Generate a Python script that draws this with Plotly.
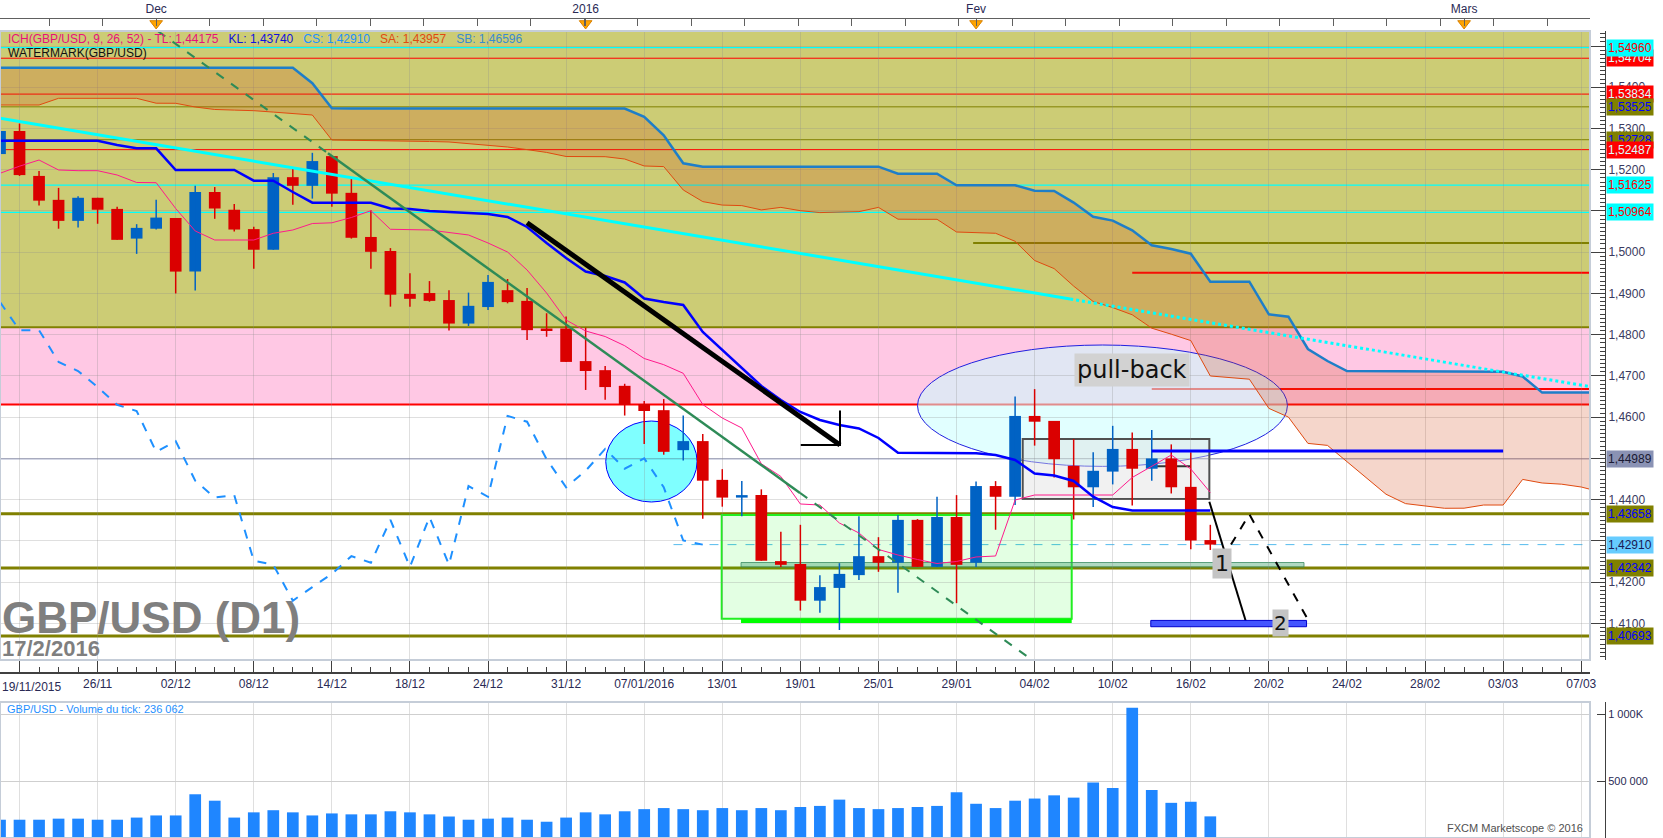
import plotly.graph_objects as go

# ------------------------------------------------------------------ data
# bar index: 0 = 19/11/2015 (daily bars, GBP/USD D1)
BAR_INDEX = list(range(-1, 62))

OPEN = [1.5238, 1.5294, 1.5185, 1.5127, 1.5076, 1.5132, 1.5105, 1.5033, 1.5057, 1.5083,
        1.4953, 1.5146, 1.5103, 1.5056, 1.5006, 1.5182, 1.5161, 1.5233, 1.5144, 1.5037,
        1.5003, 1.4899, 1.4901, 1.4884, 1.4827, 1.4867, 1.4908, 1.4882, 1.4815, 1.4815,
        1.4736, 1.4714, 1.4676, 1.4632, 1.4617, 1.4520, 1.4542, 1.4448, 1.4405, 1.4411,
        1.4251, 1.4244, 1.4155, 1.4186, 1.4217, 1.4263, 1.4247, 1.4351, 1.4237, 1.4358,
        1.4247, 1.4433, 1.4407, 1.4603, 1.4591, 1.4482, 1.4430, 1.4468, 1.4523, 1.4475,
        1.4500, 1.4431, 1.4302]
HIGH = [1.5338, 1.5312, 1.5197, 1.5156, 1.5136, 1.5132, 1.5110, 1.5068, 1.5127, 1.5083,
        1.5161, 1.5158, 1.5117, 1.5062, 1.5192, 1.5204, 1.5241, 1.5233, 1.5178, 1.5102,
        1.5010, 1.4949, 1.4930, 1.4908, 1.4902, 1.4945, 1.4935, 1.4913, 1.4852, 1.4844,
        1.4817, 1.4724, 1.4681, 1.4639, 1.4644, 1.4604, 1.4559, 1.4474, 1.4445, 1.4425,
        1.4322, 1.4339, 1.4217, 1.4246, 1.4360, 1.4309, 1.4363, 1.4353, 1.4407, 1.4411,
        1.4444, 1.4445, 1.4650, 1.4668, 1.4591, 1.4547, 1.4515, 1.4579, 1.4563, 1.4569,
        1.4534, 1.4515, 1.4339]
LOW = [1.5232, 1.5185, 1.5113, 1.5057, 1.5060, 1.5069, 1.5030, 1.4996, 1.5055, 1.4900,
       1.4907, 1.5081, 1.5050, 1.4960, 1.5006, 1.5115, 1.5130, 1.5110, 1.5033, 1.4960,
       1.4868, 1.4868, 1.4880, 1.4810, 1.4821, 1.4860, 1.4876, 1.4787, 1.4795, 1.4734,
       1.4666, 1.4642, 1.4604, 1.4535, 1.4509, 1.4495, 1.4354, 1.4383, 1.4360, 1.4252,
       1.4237, 1.4131, 1.4126, 1.4084, 1.4205, 1.4225, 1.4174, 1.4237, 1.4237, 1.4149,
       1.4237, 1.4327, 1.4387, 1.4531, 1.4454, 1.4352, 1.4382, 1.4437, 1.4386, 1.4446,
       1.4415, 1.4280, 1.4278]
CLOSE = [1.5294, 1.5187, 1.5125, 1.5076, 1.5132, 1.5103, 1.5030, 1.5059, 1.5084, 1.4953,
         1.5146, 1.5106, 1.5055, 1.5006, 1.5182, 1.5161, 1.5221, 1.5142, 1.5035, 1.5001,
         1.4897, 1.4887, 1.4882, 1.4827, 1.4870, 1.4928, 1.4879, 1.4811, 1.4811, 1.4734,
         1.4712, 1.4673, 1.4630, 1.4615, 1.4516, 1.4542, 1.4446, 1.4405, 1.4411, 1.4252,
         1.4242, 1.4155, 1.4188, 1.4220, 1.4263, 1.4247, 1.4351, 1.4237, 1.4358, 1.4242,
         1.4433, 1.4407, 1.4603, 1.4589, 1.4498, 1.4430, 1.4470, 1.4523, 1.4475, 1.4500,
         1.4430, 1.4301, 1.4291]
VOLUME = [211000, 211000, 211000, 219000, 219000, 211000, 211000, 227000, 243000, 243000,
          401000, 353000, 227000, 266000, 282000, 266000, 243000, 258000, 251000, 251000,
          274000, 266000, 251000, 235000, 211000, 219000, 227000, 211000, 196000, 227000,
          266000, 251000, 274000, 290000, 298000, 290000, 282000, 298000, 282000, 298000,
          282000, 306000, 314000, 361000, 298000, 290000, 298000, 306000, 314000, 416000,
          330000, 298000, 353000, 369000, 393000, 376000, 488000, 448000, 1047000, 433000,
          337000, 345000, 236062]

TENKAN = [1.51914, 1.52086, 1.52236, 1.51994, 1.51977, 1.51977, 1.51872, 1.51691, 1.51686, 1.51060,
          1.50515, 1.50296, 1.50296, 1.50296, 1.50459, 1.50539, 1.50696, 1.50713, 1.50842, 1.51007,
          1.50556, 1.50556, 1.50539, 1.50478, 1.50418, 1.50224, 1.50005, 1.49569, 1.49011, 1.48356,
          1.48090, 1.47956, 1.47733, 1.47423, 1.47273, 1.47064, 1.46307, 1.45980, 1.45738, 1.44870,
          1.44562, 1.43895, 1.43870, 1.43434, 1.43192, 1.42792, 1.42658, 1.42549, 1.42452, 1.42501,
          1.42610, 1.42634, 1.43992, 1.44113, 1.44113, 1.44113, 1.44113, 1.44113, 1.44537, 1.44816,
          1.45083, 1.44743, 1.44175]
KIJUN = [1.52704, 1.52704, 1.52704, 1.52704, 1.52704, 1.52704, 1.52600, 1.52520, 1.52520, 1.51994,
         1.51994, 1.51994, 1.51994, 1.51734, 1.51734, 1.51460, 1.51201, 1.51201, 1.51201, 1.51201,
         1.51060, 1.51048, 1.51000, 1.50975, 1.50951, 1.50927, 1.50854, 1.50612, 1.50224, 1.49860,
         1.49532, 1.49423, 1.49266, 1.48878, 1.48793, 1.48720, 1.48065, 1.47629, 1.47193, 1.46756,
         1.46417, 1.46126, 1.45932, 1.45810, 1.45726, 1.45495, 1.45139, 1.45131, 1.45131, 1.45131,
         1.45124, 1.45083, 1.44962, 1.44634, 1.44586, 1.44453, 1.44072, 1.43822, 1.43740, 1.43740,
         1.43740, 1.43740, 1.43740]

# cloud (senkou spans, projected 26 bars ahead)
CLOUD_INDEX = list(range(-1, 82))
SENKOU_A = [1.53570, 1.53570, 1.53570, 1.53732, 1.53732, 1.53732, 1.53732, 1.53732, 1.53613, 1.53611,
            1.53521, 1.53461, 1.53446, 1.53432, 1.53398, 1.53364, 1.53327, 1.52721, 1.52716, 1.52711,
            1.52707, 1.52697, 1.52685, 1.52673, 1.52636, 1.52600, 1.52551, 1.52488, 1.52420, 1.52321,
            1.52316, 1.52316, 1.52260, 1.52091, 1.52076, 1.51509, 1.51227, 1.51143, 1.51130, 1.51026,
            1.51087, 1.51007, 1.50961, 1.50973, 1.50983, 1.51087, 1.50801, 1.50798, 1.50798, 1.50490,
            1.50476, 1.50459, 1.50265, 1.49799, 1.49603, 1.49178, 1.48805, 1.48657, 1.48483, 1.48158,
            1.48012, 1.47857, 1.46999, 1.46960, 1.46921, 1.46213, 1.46002, 1.45364, 1.45316, 1.44921,
            1.44525, 1.44132, 1.43904, 1.43841, 1.43791, 1.43793, 1.43870, 1.43870, 1.44491, 1.44404,
            1.44375, 1.44307, 1.44186]
SENKOU_B = [1.54472, 1.54472, 1.54472, 1.54472, 1.54472, 1.54472, 1.54472, 1.54472, 1.54472, 1.54472,
            1.54472, 1.54472, 1.54472, 1.54472, 1.54472, 1.54472, 1.54098, 1.53490, 1.53485, 1.53485,
            1.53485, 1.53485, 1.53485, 1.53485, 1.53485, 1.53485, 1.53485, 1.53485, 1.53485, 1.53485,
            1.53485, 1.53485, 1.53485, 1.53284, 1.52833, 1.52156, 1.52074, 1.52074, 1.52074, 1.52074,
            1.52074, 1.52074, 1.52074, 1.52074, 1.52074, 1.52074, 1.51904, 1.51904, 1.51902, 1.51623,
            1.51623, 1.51623, 1.51623, 1.51492, 1.51484, 1.51203, 1.50861, 1.50767, 1.50531, 1.50168,
            1.50078, 1.49964, 1.49285, 1.49285, 1.49285, 1.48495, 1.48436, 1.47653, 1.47362, 1.47120,
            1.47120, 1.47120, 1.47120, 1.47120, 1.47120, 1.47120, 1.47120, 1.47103, 1.46986, 1.46596,
            1.46596, 1.46596, 1.46596]
CHIKOU_SHIFT = 26

# axis ticks (first date label is drawn separately so it can start at the left edge)
X_TICK_POS = list(range(0, 81, 4))
X_TICK_TEXT = ["19/11/2015", "26/11", "02/12", "08/12", "14/12", "18/12", "24/12", "31/12",
               "07/01/2016", "13/01", "19/01", "25/01", "29/01", "04/02", "10/02", "16/02",
               "20/02", "24/02", "28/02", "03/03", "07/03"]
MONTH_POS = [7, 29, 49, 74]
MONTH_TEXT = ["Dec", "2016", "Fev", "Mars"]
PRICE_TICK_POS = [1.41, 1.42, 1.43, 1.44, 1.45, 1.46, 1.47, 1.48, 1.49, 1.50, 1.51, 1.52, 1.53, 1.54, 1.55]
# labels hidden behind level boxes in the reference are left blank
PRICE_TICK_TEXT = ["1,4100", "1,4200", "", "1,4400", "", "1,4600", "1,4700", "1,4800", "1,4900",
                   "1,5000", "", "1,5200", "1,5300", "1,5400", ""]
VOL_TICK_POS = [500000, 1000000]
VOL_TICK_TEXT = ["500 000", "1 000K"]

# horizontal price levels (labelled on the right scale)
LEVEL_PRICE = [1.54704, 1.54960, 1.53834, 1.53525, 1.52728, 1.52487, 1.51625, 1.50964,
               1.44989, 1.43658, 1.42910, 1.42342, 1.40693]
LEVEL_KIND = ["red", "cyan", "red", "olive", "olive", "red", "cyan", "cyan",
              "grey", "olive_thick", "cs", "olive_thick", "olive_thick"]
# zones
OLIVE_ZONE_LOW = 1.4818
PINK_ZONE = [1.4631, 1.4818]
# partial horizontal lines (start bar, price)
PARTIAL_START = [48.85, 57.0, 58.0]
PARTIAL_PRICE = [1.50224, 1.49503, 1.46683]
PARTIAL_KIND = ["olive", "red", "red"]
KL_PROJ_X = [58.0, 76.0]
KL_PROJ_Y = 1.4518
CS_LINE_START = 33.5

# drawn tools
CYAN_TL_X = [-1.0, 53.82, 80.45]
CYAN_TL_Y = [1.53247, 1.48866, 1.46739]
GREEN_TL_X = [7.09, 15.8, 39.98, 51.87]
GREEN_TL_Y = [1.5536, 1.52399, 1.44164, 1.40112]
ARROW_X = [26.0, 42.03]
ARROW_Y = [1.50716, 1.45325]
ARROW_HEAD_X = [40.02, 42.03, 42.03]
ARROW_HEAD_Y = [1.45325, 1.45325, 1.46164]
SMALL_ELLIPSE = [30.03, 34.71, 1.43943, 1.45907]
BIG_ELLIPSE = [46.0, 64.95, 1.44807, 1.47750]
GREEN_BOX = [35.97, 53.9, 1.41114, 1.43628]
GREEN_BASE = [36.96, 53.9, 1.41058]
SEA_BAND = [36.96, 65.8, 1.42367, 1.42476]
GREY_BOX = [51.39, 60.95, 1.44016, 1.45471]
GREY_INNER = [58.07, 59.96, 1.44809]
BLUE_BAR = [57.95, 65.93, 1.40919, 1.41072]
PROJ_SOLID_X = [60.95, 62.83]
PROJ_SOLID_Y = [1.43950, 1.41033]
PROJ_DASH_X = [61.58, 63.0, 65.93]
PROJ_DASH_Y = [1.42537, 1.43645, 1.41150]
LABEL_PULLBACK = [57.0, 1.47132]
LABEL_1 = [61.6, 1.42447]
LABEL_2 = [64.58, 1.41021]

X_RANGE = [-1.0, 80.45]
Y_RANGE = [1.40112, 1.55364]
VOL_RANGE = [74600, 1089600]

# ------------------------------------------------------------------ layout geometry
FIG_W, FIG_H = 1663, 838
M_T, M_R = 18, 58
PLOT_H = FIG_H - M_T
PLOT_W = FIG_W - M_R


def py(y_px):
    return (FIG_H - y_px) / PLOT_H


PRICE_DOM = [py(660), py(31)]
VOL_DOM = [0, py(702)]
TOP_DOM = [py(31), 1]
X_DOM = [0, 1590 / PLOT_W]
X_AXIS_POS = py(673)

FONT = "Liberation Sans"
UP_C = "#0062C4"
DOWN_C = "#DA0000"
GRID = "rgba(140,140,140,0.28)"
AXIS_TXT = "#2A2A55"

fig = go.Figure()

# cloud
fig.add_trace(go.Scatter(x=CLOUD_INDEX, y=SENKOU_B, mode="lines",
                         line=dict(color="#1E7EC8", width=2.5), hoverinfo="skip"))
fig.add_trace(go.Scatter(x=CLOUD_INDEX, y=SENKOU_A, mode="lines", fill="tonexty",
                         fillcolor="rgba(209,70,19,0.22)",
                         line=dict(color="#E04A10", width=1), hoverinfo="skip"))

# candles: wicks + bodies
for up, col in ((True, UP_C), (False, DOWN_C)):
    wx, wy = [], []
    for k, o, h, l, c in zip(BAR_INDEX, OPEN, HIGH, LOW, CLOSE):
        if (c >= o) == up:
            wx += [k, k, None]
            wy += [l, h, None]
    fig.add_trace(go.Scatter(x=wx, y=wy, mode="lines", line=dict(color=col, width=1.5),
                             hoverinfo="skip"))
fig.add_trace(go.Bar(
    x=BAR_INDEX,
    base=[min(o, c) for o, c in zip(OPEN, CLOSE)],
    y=[max(abs(c - o), 0.00006) for o, c in zip(OPEN, CLOSE)],
    width=0.6,
    marker=dict(color=[UP_C if c >= o else DOWN_C for o, c in zip(OPEN, CLOSE)], line=dict(width=0)),
    hoverinfo="skip"))

# chikou span (close shifted back)
fig.add_trace(go.Scatter(x=[k - CHIKOU_SHIFT for k in BAR_INDEX[CHIKOU_SHIFT:]],
                         y=CLOSE[CHIKOU_SHIFT:], mode="lines",
                         line=dict(color="#1E90FF", width=2, dash="dash"), hoverinfo="skip"))
# tenkan / kijun
fig.add_trace(go.Scatter(x=BAR_INDEX, y=TENKAN, mode="lines",
                         line=dict(color="#FF1A8C", width=1), hoverinfo="skip"))
fig.add_trace(go.Scatter(x=BAR_INDEX, y=KIJUN, mode="lines",
                         line=dict(color="#0000FF", width=2.5), hoverinfo="skip"))

# trendlines
fig.add_trace(go.Scatter(x=CYAN_TL_X[:2], y=CYAN_TL_Y[:2], mode="lines",
                         line=dict(color="#00FFFF", width=3), hoverinfo="skip"))
fig.add_trace(go.Scatter(x=CYAN_TL_X[1:], y=CYAN_TL_Y[1:], mode="lines",
                         line=dict(color="#00FFFF", width=3, dash="dot"), hoverinfo="skip"))
fig.add_trace(go.Scatter(x=GREEN_TL_X[:2], y=GREEN_TL_Y[:2], mode="lines",
                         line=dict(color="#2E8B57", width=2, dash="dash"), hoverinfo="skip"))
fig.add_trace(go.Scatter(x=GREEN_TL_X[1:3], y=GREEN_TL_Y[1:3], mode="lines",
                         line=dict(color="#2E8B57", width=2.5), hoverinfo="skip"))
fig.add_trace(go.Scatter(x=GREEN_TL_X[2:], y=GREEN_TL_Y[2:], mode="lines",
                         line=dict(color="#2E8B57", width=2, dash="dash"), hoverinfo="skip"))
# black arrow
fig.add_trace(go.Scatter(x=ARROW_X, y=ARROW_Y, mode="lines",
                         line=dict(color="#000000", width=5), hoverinfo="skip"))
fig.add_trace(go.Scatter(x=ARROW_HEAD_X, y=ARROW_HEAD_Y, mode="lines",
                         line=dict(color="#000000", width=2), hoverinfo="skip"))
# projections
fig.add_trace(go.Scatter(x=PROJ_SOLID_X, y=PROJ_SOLID_Y, mode="lines",
                         line=dict(color="#000000", width=2), hoverinfo="skip"))
fig.add_trace(go.Scatter(x=PROJ_DASH_X, y=PROJ_DASH_Y, mode="lines",
                         line=dict(color="#000000", width=2, dash="dash"), hoverinfo="skip"))

# volume
fig.add_trace(go.Bar(x=BAR_INDEX, y=VOLUME, width=0.6, marker=dict(color="#1F86FF", line=dict(width=0)),
                     xaxis="x", yaxis="y2", hoverinfo="skip"))

# month markers on top strip
fig.add_trace(go.Scatter(x=MONTH_POS, y=[0.58] * len(MONTH_POS), mode="markers",
                         marker=dict(symbol="triangle-down", size=11, color="#FFA500",
                                     line=dict(color="#D98000", width=1)),
                         xaxis="x2", yaxis="y3", hoverinfo="skip"))

# ------------------------------------------------------------------ shapes
shapes = []
shapes.append(dict(type="rect", xref="x domain", yref="y", x0=0, x1=1, y0=OLIVE_ZONE_LOW, y1=Y_RANGE[1],
                   fillcolor="#CCCC75", line=dict(width=0), layer="below"))
shapes.append(dict(type="rect", xref="x domain", yref="y", x0=0, x1=1, y0=PINK_ZONE[0], y1=PINK_ZONE[1],
                   fillcolor="#FFC8E4", line=dict(width=0), layer="below"))
shapes.append(dict(type="line", xref="x domain", yref="y", x0=0, x1=1, y0=PINK_ZONE[1], y1=PINK_ZONE[1],
                   line=dict(color="#808000", width=2), layer="below"))
shapes.append(dict(type="line", xref="x domain", yref="y", x0=0, x1=1, y0=PINK_ZONE[0], y1=PINK_ZONE[0],
                   line=dict(color="#FF0000", width=2), layer="below"))

LINE_STYLE = {
    "red": dict(color="#FF0000", width=1),
    "cyan": dict(color="#00FFFF", width=1.2),
    "olive": dict(color="#808000", width=1),
    "olive_thick": dict(color="#808000", width=3),
    "grey": dict(color="#8890B8", width=1),
}
for p, kind in zip(LEVEL_PRICE, LEVEL_KIND):
    if kind == "cs":
        shapes.append(dict(type="line", xref="x", yref="y", x0=CS_LINE_START, x1=X_RANGE[1], y0=p, y1=p,
                           line=dict(color="#55BBEE", width=1, dash="dash"), layer="below"))
    else:
        shapes.append(dict(type="line", xref="x domain", yref="y", x0=0, x1=1, y0=p, y1=p,
                           line=LINE_STYLE[kind], layer="below"))
PARTIAL_STYLE = {"olive": dict(color="#808000", width=2), "red": dict(color="#FF0000", width=2)}
for x0, p, kind in zip(PARTIAL_START, PARTIAL_PRICE, PARTIAL_KIND):
    shapes.append(dict(type="line", xref="x", yref="y", x0=x0, x1=X_RANGE[1], y0=p, y1=p,
                       line=PARTIAL_STYLE[kind], layer="below"))

# ellipses and boxes
shapes.append(dict(type="circle", xref="x", yref="y", x0=SMALL_ELLIPSE[0], x1=SMALL_ELLIPSE[1],
                   y0=SMALL_ELLIPSE[2], y1=SMALL_ELLIPSE[3], fillcolor="rgba(0,255,255,0.5)",
                   line=dict(color="#0000FF", width=1), layer="below"))
shapes.append(dict(type="circle", xref="x", yref="y", x0=BIG_ELLIPSE[0], x1=BIG_ELLIPSE[1],
                   y0=BIG_ELLIPSE[2], y1=BIG_ELLIPSE[3], fillcolor="rgba(200,255,255,0.55)",
                   line=dict(color="#2020E0", width=1), layer="below"))
shapes.append(dict(type="rect", xref="x", yref="y", x0=GREEN_BOX[0], x1=GREEN_BOX[1],
                   y0=GREEN_BOX[2], y1=GREEN_BOX[3], fillcolor="rgba(0,255,0,0.11)",
                   line=dict(color="#22EE22", width=2), layer="below"))
shapes.append(dict(type="rect", xref="x", yref="y", x0=SEA_BAND[0], x1=SEA_BAND[1],
                   y0=SEA_BAND[2], y1=SEA_BAND[3], fillcolor="rgba(80,170,120,0.45)",
                   line=dict(color="rgba(60,140,100,0.8)", width=1), layer="below"))
shapes.append(dict(type="line", xref="x", yref="y", x0=GREEN_BASE[0], x1=GREEN_BASE[1],
                   y0=GREEN_BASE[2], y1=GREEN_BASE[2], line=dict(color="#00FF00", width=4), layer="below"))
shapes.append(dict(type="rect", xref="x", yref="y", x0=GREY_BOX[0], x1=GREY_BOX[1],
                   y0=GREY_BOX[2], y1=GREY_BOX[3], fillcolor="rgba(225,225,225,0.45)",
                   line=dict(color="#505050", width=2), layer="below"))
shapes.append(dict(type="line", xref="x", yref="y", x0=GREY_INNER[0], x1=GREY_INNER[1],
                   y0=GREY_INNER[2], y1=GREY_INNER[2], line=dict(color="#333333", width=2), layer="below"))
shapes.append(dict(type="line", xref="x", yref="y", x0=KL_PROJ_X[0], x1=KL_PROJ_X[1],
                   y0=KL_PROJ_Y, y1=KL_PROJ_Y, line=dict(color="#0000FF", width=3), layer="above"))
shapes.append(dict(type="rect", xref="x", yref="y", x0=BLUE_BAR[0], x1=BLUE_BAR[1],
                   y0=BLUE_BAR[2], y1=BLUE_BAR[3], fillcolor="#4455FF",
                   line=dict(color="#0000CC", width=1), layer="above"))
# panel borders
shapes.append(dict(type="rect", xref="x domain", yref="y domain", x0=0, x1=1, y0=0, y1=1,
                   line=dict(color="#C5CDD8", width=2), layer="above"))
shapes.append(dict(type="rect", xref="x domain", yref="y2 domain", x0=0, x1=1, y0=0, y1=1,
                   line=dict(color="#C5CDD8", width=2), layer="above"))

# ------------------------------------------------------------------ annotations
ann = []
LABEL_COL = {
    "red": ("#FF0000", "#D8FFFF"),
    "cyan": ("#00FFFF", "#FF0000"),
    "olive": ("#808000", "#0000FF"),
    "olive_thick": ("#808000", "#0000FF"),
    "grey": ("#8A92B4", "#1A1A33"),
    "cs": ("#66CCFF", "#1A1A55"),
}
for p, kind in zip(LEVEL_PRICE, LEVEL_KIND):
    bg, fg = LABEL_COL[kind]
    ann.append(dict(xref="paper", yref="y", x=1, y=p, xanchor="left", yanchor="middle", xshift=1,
                    text=("%.5f" % p).replace(".", ","), showarrow=False, bgcolor=bg, borderpad=1,
                    font=dict(family=FONT, size=12, color=fg)))

# first date tick label, left-aligned at the chart edge
ann.append(dict(xref="paper", yref="paper", x=0, y=py(687), xanchor="left", yanchor="middle",
                text=X_TICK_TEXT[0], showarrow=False, font=dict(family=FONT, size=12, color=AXIS_TXT)))

legend_txt = ('<span style="color:#E8107A">ICH(GBP/USD, 9, 26, 52) - TL: 1,44175</span>'
              '&nbsp;&nbsp;&nbsp;<span style="color:#1010E0">KL: 1,43740</span>'
              '&nbsp;&nbsp;&nbsp;<span style="color:#1E90FF">CS: 1,42910</span>'
              '&nbsp;&nbsp;&nbsp;<span style="color:#E04A10">SA: 1,43957</span>'
              '&nbsp;&nbsp;&nbsp;<span style="color:#3A8AD0">SB: 1,46596</span>')
ann.append(dict(xref="x domain", yref="y domain", x=0.004, y=(660 - 39) / 629, xanchor="left",
                yanchor="middle", text=legend_txt, showarrow=False, font=dict(family=FONT, size=12)))
ann.append(dict(xref="x domain", yref="y domain", x=0.004, y=(660 - 52.5) / 629, xanchor="left",
                yanchor="middle", text="WATERMARK(GBP/USD)", showarrow=False,
                font=dict(family=FONT, size=12, color="#111111")))
ann.append(dict(xref="x domain", yref="y domain", x=0, y=(660 - 617) / 629, xanchor="left",
                yanchor="middle", text="<b>GBP/USD (D1)</b>", showarrow=False,
                font=dict(family=FONT, size=44, color="#7F7F7F")))
ann.append(dict(xref="x domain", yref="y domain", x=0, y=(660 - 648) / 629, xanchor="left",
                yanchor="middle", text="<b>17/2/2016</b>", showarrow=False,
                font=dict(family=FONT, size=22, color="#7F7F7F")))
ann.append(dict(xref="x", yref="y", x=LABEL_PULLBACK[0], y=LABEL_PULLBACK[1], text="pull-back",
                showarrow=False, bgcolor="#D2D2D2", borderpad=2,
                font=dict(family="DejaVu Sans", size=24, color="#111111")))
ann.append(dict(xref="x", yref="y", x=LABEL_1[0], y=LABEL_1[1], text="1", showarrow=False,
                bgcolor="#C4C4C4", borderpad=2, font=dict(family="DejaVu Sans", size=22, color="#111111")))
ann.append(dict(xref="x", yref="y", x=LABEL_2[0], y=LABEL_2[1], text="2", showarrow=False,
                bgcolor="#C4C4C4", borderpad=1, font=dict(family="DejaVu Sans", size=20, color="#111111")))
ann.append(dict(xref="x domain", yref="y2 domain", x=0.003, y=(838 - 709) / 136, xanchor="left",
                yanchor="middle", text="GBP/USD - Volume du tick: 236 062", showarrow=False,
                font=dict(family=FONT, size=11, color="#1E90FF")))
ann.append(dict(xref="x domain", yref="y2 domain", x=0.997, y=(838 - 828) / 136, xanchor="right",
                yanchor="middle", text="FXCM Marketscope © 2016", showarrow=False,
                font=dict(family=FONT, size=11, color="#505050")))

# ------------------------------------------------------------------ layout
fig.update_layout(
    width=FIG_W, height=FIG_H,
    margin=dict(l=0, r=M_R, t=M_T, b=0, pad=0, autoexpand=False),
    paper_bgcolor="white", plot_bgcolor="white",
    showlegend=False, barmode="overlay", separators=", ",
    font=dict(family=FONT, size=12, color=AXIS_TXT),
    shapes=shapes, annotations=ann,
    xaxis=dict(domain=X_DOM, range=X_RANGE, anchor="free", position=X_AXIS_POS, automargin=False,
               tickmode="array", tickvals=X_TICK_POS, ticktext=[""] + X_TICK_TEXT[1:],
               ticks="inside", ticklen=13, tickcolor="#404040", tickwidth=1,
               showline=True, linecolor="#404040", linewidth=2,
               showgrid=True, gridcolor=GRID, zeroline=False,
               tickfont=dict(family=FONT, size=12, color=AXIS_TXT),
               minor=dict(tick0=0, dtick=1, ticks="inside", ticklen=5, tickcolor="#404040", showgrid=False)),
    xaxis2=dict(overlaying="x", range=X_RANGE, anchor="free", position=1, side="top", automargin=False,
                tickmode="array", tickvals=MONTH_POS, ticktext=MONTH_TEXT,
                ticks="inside", ticklen=7, tickcolor="#606060",
                showline=True, linecolor="#606060", linewidth=1, showgrid=False, zeroline=False,
                tickfont=dict(family=FONT, size=12, color=AXIS_TXT),
                minor=dict(tick0=MONTH_POS[0], dtick=2.741, ticks="inside", ticklen=7,
                           tickcolor="#606060", showgrid=False)),
    yaxis=dict(domain=PRICE_DOM, range=Y_RANGE, anchor="free", position=1, side="right", automargin=False,
               tickmode="array", tickvals=PRICE_TICK_POS, ticktext=PRICE_TICK_TEXT,
               ticks="inside", ticklen=14, tickcolor="#404040",
               showline=True, linecolor="#404040", linewidth=1,
               showgrid=True, gridcolor=GRID, zeroline=False,
               tickfont=dict(family=FONT, size=12, color="#3A3A60"),
               minor=dict(tick0=1.40, dtick=0.001, ticks="inside", ticklen=5, tickcolor="#404040",
                          showgrid=False)),
    yaxis2=dict(domain=VOL_DOM, range=VOL_RANGE, anchor="free", position=1, side="right", automargin=False,
                tickmode="array", tickvals=VOL_TICK_POS, ticktext=VOL_TICK_TEXT,
                ticks="inside", ticklen=8, tickcolor="#404040",
                showline=True, linecolor="#404040", linewidth=1,
                showgrid=True, gridcolor="#CFCFCF", zeroline=False,
                tickfont=dict(family=FONT, size=11, color=AXIS_TXT)),
    yaxis3=dict(domain=TOP_DOM, range=[0, 1], visible=False, fixedrange=True),
)

fig.write_html("out.html", config={"displayModeBar": False},
               post_script="document.body.style.margin='0';document.body.style.overflow='hidden';")
